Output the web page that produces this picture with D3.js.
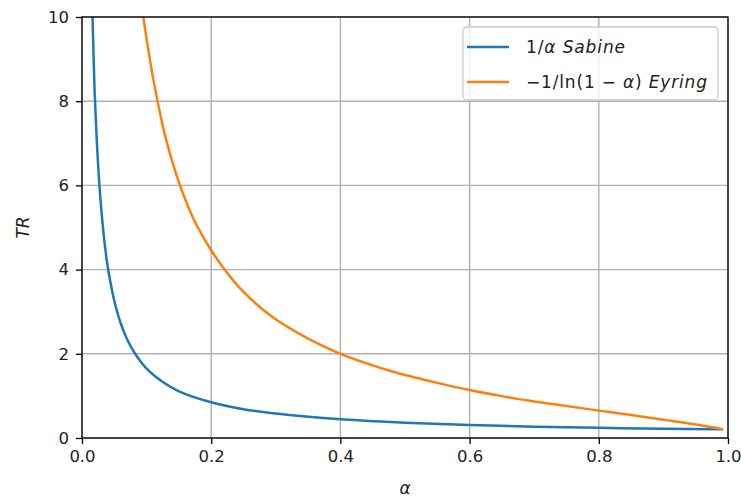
<!DOCTYPE html>
<html>
<head>
<meta charset="utf-8">
<script src="https://cdn.jsdelivr.net/npm/d3@7"></script>
<style>
  html, body { margin: 0; padding: 0; background: #fff; }
  svg { display: block; font-family: "DejaVu Sans", sans-serif; }
</style>
</head>
<body>
<svg id="chart" width="741" height="497"></svg>
<script>
// ---- data ----
const sabineAlpha = [0.0155, 0.0165, 0.0196, 0.0230, 0.0268, 0.032, 0.039, 0.045, 0.05, 0.06, 0.07, 0.0815, 0.1, 0.124, 0.15, 0.2, 0.25, 0.3, 0.3375, 0.4, 0.5, 0.6, 0.7, 0.8, 0.9, 0.99];
const sabineTR    = [10.45, 9.9, 8.2, 7.03, 6.05, 5.07, 4.15, 3.62, 3.26, 2.72, 2.34, 2.02, 1.65, 1.34, 1.11, 0.85, 0.685, 0.58, 0.52, 0.445, 0.365, 0.31, 0.27, 0.242, 0.22, 0.205];

const eyringAlpha = [0.09, 0.095, 0.105, 0.1156, 0.13, 0.1517, 0.175, 0.2, 0.216, 0.25, 0.296, 0.35, 0.4, 0.45, 0.487, 0.55, 0.6, 0.65, 0.693, 0.75, 0.8, 0.85, 0.9, 0.95, 0.99];
const eyringTR    = [10.6, 10.0, 9.0, 8.1, 7.1, 6.0, 5.13, 4.46, 4.1, 3.47, 2.86, 2.36, 2.0, 1.725, 1.55, 1.31, 1.14, 0.995, 0.885, 0.76, 0.65, 0.545, 0.435, 0.32, 0.215];

const xTicks = [0.0, 0.2, 0.4, 0.6, 0.8, 1.0];
const yTicks = [0, 2, 4, 6, 8, 10];
const seriesNames = ["Sabine", "Eyring"];
const seriesColors = ["#1f77b4", "#ff7f0e"];

// ---- layout ----
const svg = d3.select("#chart");
const mLeft = 82, mRight = 728, mTop = 17, mBottom = 438;

const x = d3.scaleLinear().domain([0, 1]).range([mLeft, mRight]);
const y = d3.scaleLinear().domain([0, 10]).range([mBottom, mTop]);

// clip
svg.append("defs").append("clipPath").attr("id", "plotclip")
  .append("rect").attr("x", mLeft).attr("y", mTop).attr("width", mRight - mLeft).attr("height", mBottom - mTop);

// grid
const grid = svg.append("g");
grid.selectAll("line.vx").data(xTicks).join("line")
  .attr("x1", d => x(d)).attr("x2", d => x(d)).attr("y1", mTop).attr("y2", mBottom)
  .attr("stroke", "#b0b0b0").attr("stroke-width", 1.4);
grid.selectAll("line.hy").data(yTicks).join("line")
  .attr("y1", d => y(d)).attr("y2", d => y(d)).attr("x1", mLeft).attr("x2", mRight)
  .attr("stroke", "#b0b0b0").attr("stroke-width", 1.4);

// lines
const series = [
  { name: seriesNames[0], xs: sabineAlpha, ys: sabineTR, color: seriesColors[0] },
  { name: seriesNames[1], xs: eyringAlpha, ys: eyringTR, color: seriesColors[1] }
];
const line = d3.line().x(d => x(d[0])).y(d => y(d[1])).curve(d3.curveCatmullRom.alpha(0.5));
const plot = svg.append("g").attr("clip-path", "url(#plotclip)");
series.forEach(s => {
  const pts = s.xs.map((v, i) => [v, s.ys[i]]);
  plot.append("path").datum(pts)
    .attr("d", line)
    .attr("fill", "none")
    .attr("stroke", s.color)
    .attr("stroke-width", 2.5)
    .attr("stroke-linejoin", "round")
    .attr("stroke-linecap", "square");
});

// axes
const xAxis = d3.axisBottom(x).tickValues(xTicks).tickFormat(d3.format(".1f")).tickSize(6).tickPadding(6);
const yAxis = d3.axisLeft(y).tickValues(yTicks).tickFormat(d3.format("d")).tickSize(6).tickPadding(7);

const gx = svg.append("g").attr("transform", `translate(0,${mBottom})`).call(xAxis);
const gy = svg.append("g").attr("transform", `translate(${mLeft},0)`).call(yAxis);
[gx, gy].forEach(g => {
  g.select(".domain").remove();
  g.selectAll(".tick line").attr("stroke", "#000").attr("stroke-width", 1.3);
  g.selectAll(".tick text").attr("fill", "#222").style("font-size", "16.5px").style("font-family", "DejaVu Sans");
});

// spines
svg.append("rect").attr("x", mLeft).attr("y", mTop).attr("width", mRight - mLeft).attr("height", mBottom - mTop)
  .attr("fill", "none").attr("stroke", "#000").attr("stroke-width", 1.3);

// axis labels
svg.append("text").attr("x", (mLeft + mRight) / 2).attr("y", 494)
  .attr("text-anchor", "middle").style("font-size", "17px").style("font-style", "italic")
  .attr("fill", "#222").text("α");
svg.append("text").attr("transform", `translate(29,${(mTop + mBottom) / 2}) rotate(-90)`)
  .attr("text-anchor", "middle").style("font-size", "17px").style("font-style", "italic")
  .attr("fill", "#222").text("TR");

// legend
const lg = svg.append("g");
lg.append("rect").attr("x", 463).attr("y", 27).attr("width", 255).attr("height", 73)
  .attr("rx", 4).attr("ry", 4)
  .attr("fill", "#fff").attr("fill-opacity", 0.8).attr("stroke", "#cccccc").attr("stroke-width", 1.3);
const rowsY = [47, 82];
series.forEach((s, i) => {
  lg.append("line").attr("x1", 467).attr("x2", 509).attr("y1", rowsY[i]).attr("y2", rowsY[i])
    .attr("stroke", s.color).attr("stroke-width", 2.5);
});
const t1 = lg.append("text").attr("x", 526).attr("y", rowsY[0] + 6).style("font-size", "17px").attr("fill", "#222")
  .attr("textLength", 99).attr("lengthAdjust", "spacing");
t1.append("tspan").text("1/");
t1.append("tspan").style("font-style", "italic").text("α Sabine");
const t2 = lg.append("text").attr("x", 526).attr("y", rowsY[1] + 6).style("font-size", "17px").attr("fill", "#222")
  .attr("textLength", 181).attr("lengthAdjust", "spacing");
t2.append("tspan").text("−1/ln(1 − ");
t2.append("tspan").style("font-style", "italic").text("α");
t2.append("tspan").text(") ");
t2.append("tspan").style("font-style", "italic").text("Eyring");
</script>
</body>
</html>
